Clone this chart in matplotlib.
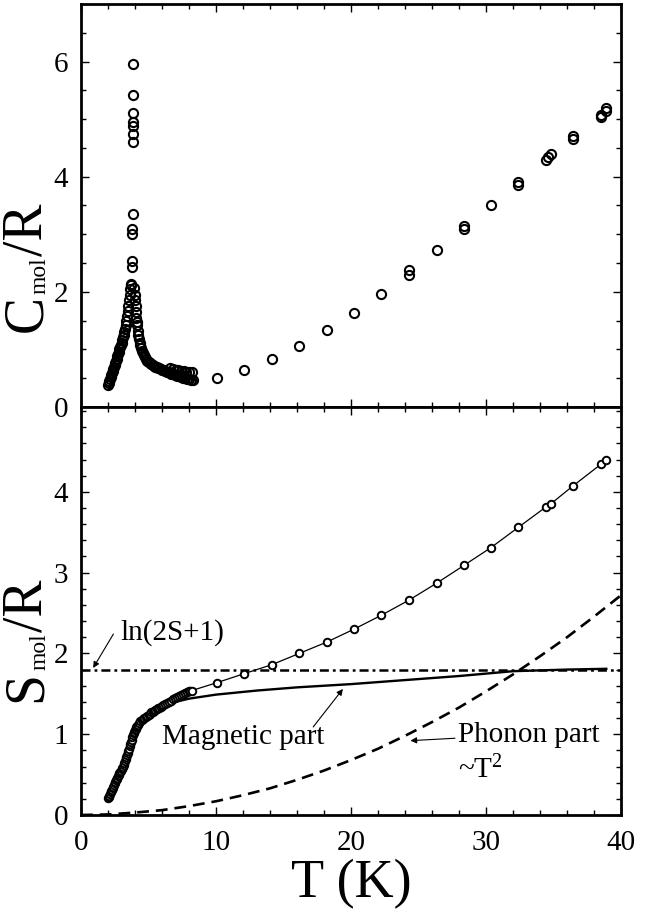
import matplotlib
matplotlib.use("Agg")
import matplotlib.pyplot as plt
from matplotlib.ticker import MultipleLocator, FixedLocator

plt.rcParams['font.family'] = ['Liberation Serif', 'DejaVu Serif']
plt.rcParams['mathtext.fontset'] = 'custom'
plt.rcParams['mathtext.rm'] = 'Liberation Serif'
plt.rcParams['mathtext.it'] = 'Liberation Serif:italic'
plt.rcParams['lines.scale_dashes'] = False

# ---------------- data: heat capacity C/R ----------------
C_T_low = [2.0, 2.05, 2.1, 2.15, 2.2, 2.25, 2.3, 2.35, 2.4, 2.45, 2.5, 2.55, 2.6, 2.65,
           2.7, 2.75, 2.8, 2.85, 2.9, 2.95, 3.0, 3.05, 3.1, 3.15, 3.2, 3.25, 3.3, 3.35,
           3.4, 3.45, 3.5, 3.55, 3.6, 3.65, 3.7]
C_low = [0.38, 0.41, 0.45, 0.48, 0.52, 0.55, 0.59, 0.62, 0.66, 0.69, 0.73, 0.76, 0.80,
         0.84, 0.88, 0.92, 0.96, 1.00, 1.04, 1.08, 1.12, 1.16, 1.21, 1.25, 1.30, 1.36,
         1.42, 1.50, 1.58, 1.67, 1.76, 1.85, 1.95, 2.05, 2.13]

C_T_peak = [3.87, 3.87, 3.87, 3.87, 3.87, 3.87, 3.87, 3.87, 3.76, 3.76, 3.78, 3.78, 3.70, 3.91]
C_peak = [5.95, 5.42, 5.11, 4.95, 4.88, 4.74, 4.61, 3.35, 3.09, 3.01, 2.53, 2.44, 2.12, 2.07]

C_T_high = [4.0, 4.03, 4.05, 4.08, 4.1, 4.13, 4.15, 4.2, 4.25, 4.3, 4.35, 4.4, 4.45, 4.5,
            4.58, 4.65, 4.72, 4.8, 4.9, 5.0, 5.1, 5.2, 5.3, 5.4, 5.5, 5.6, 5.7, 5.8,
            5.9, 6.0, 6.1, 6.2, 6.35, 6.5, 6.65, 6.8, 6.95, 7.1, 7.25, 7.4, 7.55, 7.7,
            7.85, 8.0, 8.15, 8.3,
            6.6, 6.8, 7.0, 7.2, 7.4, 7.6, 7.8, 8.0, 8.2]
C_high = [1.95, 1.85, 1.75, 1.65, 1.55, 1.48, 1.42, 1.32, 1.25, 1.18, 1.12, 1.07, 1.02,
          0.98, 0.94, 0.90, 0.86, 0.83, 0.80, 0.78, 0.76, 0.74, 0.73, 0.72, 0.70, 0.69,
          0.68, 0.67, 0.66, 0.65, 0.64, 0.63, 0.61, 0.60, 0.58, 0.57, 0.55, 0.54, 0.53,
          0.52, 0.51, 0.50, 0.49, 0.48, 0.47, 0.47,
          0.67, 0.66, 0.65, 0.64, 0.63, 0.62, 0.61, 0.61, 0.60]

C_T_sparse = [10.05, 12.1, 14.13, 16.17, 18.2, 20.22, 22.22, 24.3, 24.3, 26.35,
              28.37, 28.37, 30.37, 32.39, 32.39, 34.42, 34.61, 34.79, 36.42, 36.42,
              38.5, 38.5, 38.89, 38.89]
C_sparse = [0.51, 0.64, 0.83, 1.06, 1.34, 1.64, 1.96, 2.38, 2.30, 2.73,
            3.15, 3.10, 3.51, 3.91, 3.85, 4.29, 4.34, 4.39, 4.71, 4.65,
            5.07, 5.04, 5.19, 5.14]

# ---------------- data: entropy S/R ----------------
S_T = [2.0, 2.05, 2.1, 2.15, 2.2, 2.25, 2.3, 2.35, 2.4, 2.45, 2.5, 2.55, 2.6, 2.65,
       2.7, 2.75, 2.8, 2.85, 2.9, 2.95, 3.0, 3.05, 3.1, 3.15, 3.2, 3.25, 3.3, 3.35,
       3.4, 3.45, 3.5, 3.55, 3.6, 3.65, 3.7, 3.75, 3.8, 3.85, 3.9, 3.95, 4.0, 4.05,
       4.1, 4.15, 4.2, 4.3, 4.4, 4.5, 4.6, 4.7, 4.8, 4.9, 5.0, 5.1, 5.2, 5.3, 5.4,
       5.5, 5.6, 5.7, 5.8, 5.9, 6.0, 6.1, 6.2, 6.35, 6.5, 6.65, 6.8, 6.95, 7.1,
       7.25, 7.4, 7.55, 7.7, 7.85, 8.0, 8.1, 8.2,
       10.1, 12.1, 14.13, 16.17, 18.2, 20.22, 22.22, 24.3, 26.35, 28.37, 30.37,
       32.39, 34.42, 34.79, 36.42, 38.5, 38.89]
S_val = [0.21, 0.225, 0.24, 0.26, 0.28, 0.295, 0.31, 0.33, 0.35, 0.37, 0.39, 0.41,
         0.43, 0.445, 0.46, 0.48, 0.50, 0.515, 0.53, 0.55, 0.57, 0.585, 0.60, 0.62,
         0.64, 0.665, 0.69, 0.715, 0.74, 0.765, 0.79, 0.82, 0.85, 0.875, 0.90, 0.93,
         0.96, 0.99, 1.01, 1.03, 1.05, 1.07, 1.09, 1.105, 1.12, 1.14, 1.16, 1.18,
         1.19, 1.20, 1.21, 1.225, 1.24, 1.255, 1.27, 1.28, 1.29, 1.30, 1.31, 1.32,
         1.33, 1.34, 1.35, 1.36, 1.37, 1.385, 1.40, 1.415, 1.43, 1.445, 1.46, 1.47,
         1.48, 1.495, 1.51, 1.52, 1.53, 1.535, 1.54,
         1.64, 1.75, 1.86, 2.00, 2.14, 2.30, 2.47, 2.66, 2.87, 3.09, 3.31,
         3.56, 3.81, 3.85, 4.07, 4.34, 4.39]

mag_T = [2.0, 2.6, 3.1, 3.6, 3.9, 4.4, 5.1, 6.0, 7.0, 8.0, 10.0, 13.0, 16.0, 20.0,
         24.0, 28.0, 32.0, 36.0, 39.0]
mag_S = [0.21, 0.43, 0.60, 0.85, 1.01, 1.14, 1.24, 1.33, 1.40, 1.44, 1.49, 1.54,
         1.58, 1.62, 1.67, 1.72, 1.78, 1.80, 1.81]

ph_T = [0, 2, 4, 6, 8, 10, 12, 14, 16, 18, 20, 22, 24, 26, 28, 30, 32, 34, 36, 38, 40]
ph_S = [0.0, 0.007, 0.03, 0.06, 0.11, 0.17, 0.245, 0.33, 0.435, 0.55, 0.68, 0.82,
        0.98, 1.15, 1.33, 1.53, 1.74, 1.965, 2.20, 2.455, 2.72]

ln2S1 = 1.80
x_limits = [0, 40]

# ---------------- figure ----------------
fig = plt.figure(figsize=(6.57, 9.13), dpi=100)
W, H = 657.0, 913.0
ax1 = fig.add_axes([81 / W, 1 - 407 / H, 540 / W, 403 / H])
ax2 = fig.add_axes([81 / W, 1 - 815 / H, 540 / W, 408 / H])

mk_top = dict(linestyle='none', marker='o', mfc='none', mec='black', ms=6.6, mew=1.5)
for tx, cy in [(C_T_low, C_low), (C_T_peak, C_peak), (C_T_high, C_high), (C_T_sparse, C_sparse)]:
    ax1.plot(tx, cy, **mk_top)

ax1.set_xlim(*x_limits)
ax1.set_ylim(0, 7)
ax1.yaxis.set_major_locator(FixedLocator([0, 2, 4, 6]))
ax1.yaxis.set_minor_locator(MultipleLocator(0.5))
ax1.xaxis.set_major_locator(MultipleLocator(10))
ax1.xaxis.set_minor_locator(MultipleLocator(2))
ax1.tick_params(labelbottom=False)

# bottom panel
ax2.plot(ph_T, ph_S, color='black', lw=1.9, dashes=(8.5, 5.0))
ax2.plot(x_limits, [ln2S1, ln2S1], color='black', lw=1.8, dashes=(6.5, 2.9, 2.0, 2.9))
ax2.plot(mag_T, mag_S, color='black', lw=1.7, solid_capstyle='butt')
ax2.plot(S_T, S_val, color='black', lw=0.9, marker='o', mfc='white', mec='black',
         ms=5.4, mew=1.4)

ax2.set_xlim(*x_limits)
ax2.set_ylim(0, 5.05)
ax2.yaxis.set_major_locator(FixedLocator([0, 1, 2, 3, 4]))
ax2.yaxis.set_minor_locator(MultipleLocator(0.2))
ax2.xaxis.set_major_locator(MultipleLocator(10))
ax2.xaxis.set_minor_locator(MultipleLocator(2))

for ax in (ax1, ax2):
    for sp in ax.spines.values():
        sp.set_linewidth(2.0)
    ax.tick_params(which='both', direction='in', top=True, right=True,
                   width=1.0, labelsize=21)
    ax.tick_params(which='major', length=6)
    ax.tick_params(which='minor', length=3.5)
    ax.tick_params(axis='y', pad=9)
    ax.tick_params(axis='x', pad=11)

ax2.set_xlabel('T (K)', fontsize=39, labelpad=2)

# y labels built from pieces: large letter, small subscript, rest
renderer = fig.canvas.get_renderer()


def ylabel_pieces(x_base_px, y_bottom_px, big, sub, rest, big_size=40, sub_size=17):
    kw = dict(rotation=90, rotation_mode='anchor', ha='left', va='baseline')
    t1 = fig.text(x_base_px / W, 1 - y_bottom_px / H, big, fontsize=big_size, **kw)
    bb1 = t1.get_window_extent(renderer)
    t2 = fig.text((x_base_px + 5) / W, (bb1.y1 + 1) / H, sub, fontsize=sub_size, **kw)
    bb2 = t2.get_window_extent(renderer)
    fig.text(x_base_px / W, (bb2.y1 + 1) / H, rest, fontsize=big_size, **kw)


ylabel_pieces(41, 332, 'C', 'mol', '/R')
ylabel_pieces(41, 702, 'S', 'mol', '/R')

# annotations
ax2.annotate('', xy=(0.9, 1.82), xytext=(2.4, 2.24),
             arrowprops=dict(arrowstyle='-|>', color='black', lw=0.8,
                             mutation_scale=9, shrinkA=0, shrinkB=0))
ax2.text(2.9, 2.26, 'ln(2S+1)', fontsize=21, ha='left', va='center')

ax2.annotate('', xy=(19.4, 1.56), xytext=(17.2, 1.09),
             arrowprops=dict(arrowstyle='-|>', color='black', lw=0.8,
                             mutation_scale=9, shrinkA=0, shrinkB=0))
ax2.text(5.98, 0.97, 'Magnetic part', fontsize=21, ha='left', va='center')

ax2.annotate('', xy=(24.4, 0.92), xytext=(27.7, 0.95),
             arrowprops=dict(arrowstyle='-|>', color='black', lw=0.8,
                             mutation_scale=9, shrinkA=0, shrinkB=0))
ax2.text(27.95, 0.99, 'Phonon part', fontsize=21, ha='left', va='center')
ax2.text(27.95, 0.56, r'~T$^{2}$', fontsize=21, ha='left', va='center')

fig.savefig('out.png', dpi=100)
